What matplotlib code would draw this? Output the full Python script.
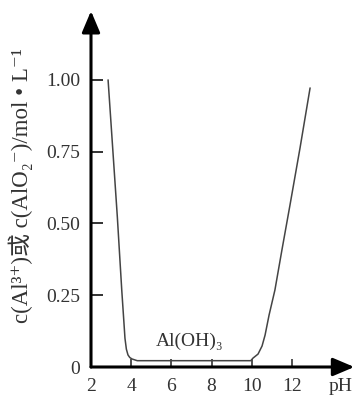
import matplotlib
matplotlib.use("Agg")
import matplotlib.pyplot as plt

# Data
ph = [2.85, 3.31, 3.53, 3.64, 3.69, 3.76, 3.84, 3.93, 4.04, 4.30, 6.0, 8.0, 9.95,
      10.06, 10.31, 10.51, 10.66, 10.86, 11.15, 11.50, 11.90, 12.40, 12.90]
conc = [1.00, 0.523, 0.268, 0.153, 0.100, 0.062, 0.042, 0.033, 0.028, 0.022, 0.022, 0.022, 0.022,
        0.031, 0.045, 0.073, 0.111, 0.181, 0.268, 0.408, 0.564, 0.763, 0.972]
xticks = [2, 4, 6, 8, 10, 12]
yticks = [0, 0.25, 0.50, 0.75, 1.00]
ytick_labels = ["0", "0.25", "0.50", "0.75", "1.00"]
ylabel = "c(Al³⁺)或 c(AlO₂⁻)/mol • L⁻¹"
xlabel = "pH"
annot = "Al(OH)₃"

fam = ["Liberation Serif", "Noto Sans CJK SC", "DejaVu Serif"]
plt.rcParams["font.family"] = fam

fig = plt.figure(figsize=(3.58, 4.0), dpi=100)
ax = fig.add_axes([91 / 358, 33 / 400, 263.3 / 358, 356 / 400])
ax.set_xlim(2, 15.1)
ax.set_ylim(0, 1.24)

ax.plot(ph, conc, color="#444444", lw=1.1, solid_capstyle="round",
        solid_joinstyle="round", clip_on=False)

for s in ax.spines.values():
    s.set_visible(False)

arrow = dict(arrowstyle="-|>,head_length=1.3,head_width=0.55", lw=2.2,
             color="black", shrinkA=0, shrinkB=0)
ax.annotate("", xy=(0, 1), xytext=(0, 0), xycoords="axes fraction",
            textcoords="axes fraction", arrowprops=arrow)
ax.annotate("", xy=(1, 0), xytext=(0, 0), xycoords="axes fraction",
            textcoords="axes fraction", arrowprops=arrow)

ax.set_xticks(xticks)
ax.set_xticklabels([str(v) for v in xticks])
ax.set_yticks(yticks)
ax.set_yticklabels(ytick_labels)
ax.tick_params(axis="x", direction="in", length=6, width=1.1, color="#222222",
               labelsize=14, labelcolor="#333333", pad=8)
ax.tick_params(axis="y", direction="in", length=8.5, width=1.3, color="#222222",
               labelsize=14, labelcolor="#333333", pad=8)

ax.annotate(xlabel, xy=(14.4, 0), xytext=(0, -8), textcoords="offset points",
            ha="center", va="top", fontsize=14, color="#333333")
ax.text(6.9, 0.075, annot, ha="center", va="baseline", fontsize=14, color="#333333")

fig.text(21 / 358, 1 - 186 / 400, ylabel, rotation=90, ha="center", va="center",
         fontsize=16.5, color="#333333", family=fam)

fig.savefig("out.png", dpi=100)
